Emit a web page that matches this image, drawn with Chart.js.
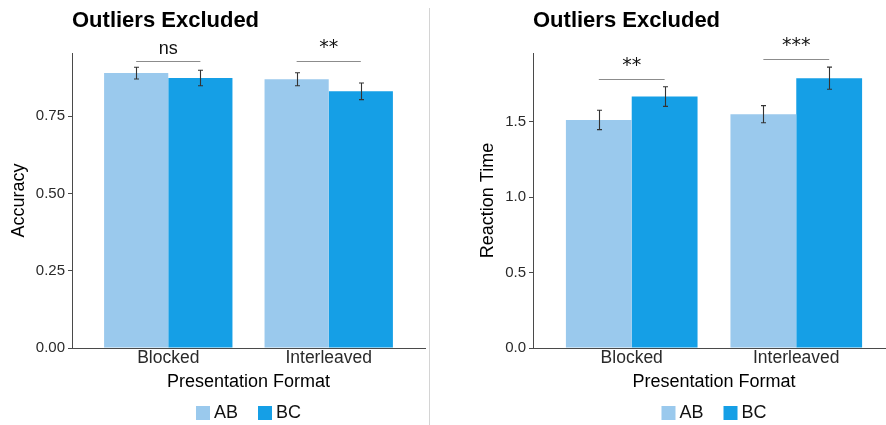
<!DOCTYPE html>
<html>
<head>
<meta charset="utf-8">
<script src="https://cdn.jsdelivr.net/npm/chart.js@4.4.1/dist/chart.umd.min.js"></script>
<style>
  html, body { margin: 0; padding: 0; background: #fff; }
  body { width: 886px; height: 425px; overflow: hidden; position: relative; }
  #accWrap { position: absolute; left: 0; top: 0; width: 430px; height: 425px; }
  #rtWrap { position: absolute; left: 440px; top: 0; width: 457px; height: 425px; }
  #divider { position: absolute; left: 429px; top: 8px; width: 1px; height: 417px; background: #d4d4d4; }
</style>
</head>
<body>
<div id="accWrap"><canvas id="acc" width="430" height="425"></canvas></div>
<div id="rtWrap"><canvas id="rt" width="457" height="425"></canvas></div>
<div id="divider"></div>
<script>
// ---- data ----
const categories = ['Blocked', 'Interleaved'];
const catPositions = [1, 2];
const seriesNames = ['AB', 'BC'];
const seriesColors = ['#9AC9ED', '#159FE6'];

// accuracy panel
const accAB = [0.890, 0.870];
const accBC = [0.874, 0.831];
const accErrAB = [0.019, 0.021];
const accErrBC = [0.025, 0.027];
const accSigLabels = ['ns', '**'];
const accSigLevels = [0.930, 0.928];
const accTicks = [0, 0.25, 0.5, 0.75];
const accTickLabels = ['0.00', '0.25', '0.50', '0.75'];
const accMax = 0.955;

// reaction time panel
const rtAB = [1.513, 1.551];
const rtBC = [1.668, 1.790];
const rtErrAB = [0.064, 0.057];
const rtErrBC = [0.065, 0.073];
const rtSigLabels = ['**', '***'];
const rtSigLevels = [1.787, 1.916];
const rtTicks = [0, 0.5, 1.0, 1.5];
const rtTickLabels = ['0.0', '0.5', '1.0', '1.5'];
const rtMax = 1.957;

const panelTitle = 'Outliers Excluded';
const xTitle = 'Presentation Format';

// ---- styling ----
const FONT = '"Liberation Sans", Arial, Helvetica, sans-serif';
const STAR_FONT = '"DejaVu Sans", sans-serif';
Chart.defaults.font.family = FONT;
const axisColor = '#4a4a4a';
const labelColor = '#2a2a2a';

// error bars centred on each bar
const errorBars = {
  id: 'errorBars',
  afterDatasetsDraw(chart) {
    const ctx = chart.ctx, y = chart.scales.y;
    ctx.save();
    ctx.strokeStyle = '#333';
    ctx.lineWidth = 1.1;
    chart.data.datasets.forEach((ds, di) => {
      chart.getDatasetMeta(di).data.forEach((bar, i) => {
        const v = ds.data[i].y, e = ds.errors[i];
        const top = y.getPixelForValue(v + e), bot = y.getPixelForValue(v - e);
        const x = Math.round(bar.x) + 0.5, cap = 2.5;
        ctx.beginPath();
        ctx.moveTo(x, top); ctx.lineTo(x, bot);
        ctx.moveTo(x - cap, top); ctx.lineTo(x + cap, top);
        ctx.moveTo(x - cap, bot); ctx.lineTo(x + cap, bot);
        ctx.stroke();
      });
    });
    ctx.restore();
  }
};

// significance bracket between the two bars of each category
function sigPlugin(labels, levels) {
  return {
    id: 'sigBrackets',
    afterDatasetsDraw(chart) {
      const ctx = chart.ctx, y = chart.scales.y;
      const a = chart.getDatasetMeta(0).data, b = chart.getDatasetMeta(1).data;
      ctx.save();
      labels.forEach((lab, i) => {
        const py = Math.round(y.getPixelForValue(levels[i])) + 0.5;
        ctx.strokeStyle = '#8c8c8c';
        ctx.lineWidth = 1.2;
        ctx.beginPath();
        ctx.moveTo(a[i].x, py); ctx.lineTo(b[i].x, py);
        ctx.stroke();
        const stars = /^\*+$/.test(lab);
        ctx.fillStyle = '#111';
        ctx.font = stars ? '19px ' + STAR_FONT : '18px ' + FONT;
        ctx.textAlign = 'center';
        ctx.textBaseline = 'alphabetic';
        ctx.fillText(lab, (a[i].x + b[i].x) / 2, py - (stars ? 9 : 8));
      });
      ctx.restore();
    }
  };
}

// legend row under the axis title, centred on the plot area
const bottomLegend = {
  id: 'bottomLegend',
  afterDraw(chart) {
    const ctx = chart.ctx, area = chart.chartArea;
    const box = 14, gap = 4, spacing = 20, boxTop = 406;
    ctx.save();
    ctx.font = '18px ' + FONT;
    const items = chart.data.datasets.map(ds => ({
      text: ds.label, color: ds.backgroundColor, w: ctx.measureText(ds.label).width
    }));
    const total = items.reduce((s, it) => s + box + gap + it.w, 0) + spacing * (items.length - 1);
    let x = (area.left + area.right) / 2 - total / 2;
    items.forEach(it => {
      ctx.fillStyle = it.color;
      ctx.fillRect(x, boxTop, box, box);
      ctx.fillStyle = '#111';
      ctx.textAlign = 'left';
      ctx.textBaseline = 'middle';
      ctx.fillText(it.text, x + box + gap, boxTop + box / 2);
      x += box + gap + it.w + spacing;
    });
    ctx.restore();
  }
};

function makePanel(canvasId, cfg) {
  const toPoints = arr => arr.map((v, i) => ({ x: catPositions[i], y: v }));
  return new Chart(document.getElementById(canvasId), {
    type: 'bar',
    data: {
      datasets: [
        { label: seriesNames[0], data: toPoints(cfg.ab), errors: cfg.errAB,
          backgroundColor: seriesColors[0], borderWidth: 0 },
        { label: seriesNames[1], data: toPoints(cfg.bc), errors: cfg.errBC,
          backgroundColor: seriesColors[1], borderWidth: 0 }
      ]
    },
    options: {
      responsive: false,
      animation: false,
      categoryPercentage: 0.8,
      barPercentage: 1.0,
      layout: { padding: { top: 0, left: 0, bottom: 0, right: cfg.padRight } },
      plugins: {
        legend: { display: false },
        tooltip: { enabled: false },
        title: {
          display: true, text: panelTitle, align: 'start', fullSize: false,
          color: '#000', font: { size: 22, weight: 'bold' },
          padding: { top: 8, bottom: 18.6 }
        }
      },
      scales: {
        x: {
          type: 'linear', min: 0.4, max: 2.6, offset: false,
          afterFit: s => { s.height = 77; },
          afterBuildTicks: s => { s.ticks = catPositions.map(v => ({ value: v })); },
          ticks: {
            callback: (v, i) => categories[i],
            color: labelColor, font: { size: 17.5 }, padding: 0, maxRotation: 0, autoSkip: false
          },
          grid: { display: false, drawTicks: false },
          border: { display: true, color: axisColor, width: 1 },
          title: {
            display: true, text: xTitle, color: '#000', font: { size: 18 },
            padding: { top: 0, bottom: 32 }
          }
        },
        y: {
          type: 'linear', min: 0, max: cfg.yMax,
          afterFit: s => { s.width = cfg.yWidth; },
          afterBuildTicks: s => { s.ticks = cfg.ticks.map(v => ({ value: v })); },
          ticks: {
            callback: (v, i) => cfg.tickLabels[i],
            color: labelColor, font: { size: 15 }, padding: 3
          },
          grid: { drawOnChartArea: false, drawTicks: true, tickLength: 4, color: axisColor },
          border: { display: true, color: axisColor, width: 1 },
          title: {
            display: true, text: cfg.yTitle, color: '#000', font: { size: 18 },
            padding: { top: cfg.yTitlePad, bottom: 0 }
          }
        }
      }
    },
    plugins: [errorBars, sigPlugin(cfg.sigLabels, cfg.sigLevels), bottomLegend]
  });
}

makePanel('acc', {
  ab: accAB, bc: accBC, errAB: accErrAB, errBC: accErrBC,
  sigLabels: accSigLabels, sigLevels: accSigLevels,
  ticks: accTicks, tickLabels: accTickLabels, yMax: accMax,
  yTitle: 'Accuracy', yWidth: 72, yTitlePad: 8, padRight: 5
});

makePanel('rt', {
  ab: rtAB, bc: rtBC, errAB: rtErrAB, errBC: rtErrBC,
  sigLabels: rtSigLabels, sigLevels: rtSigLevels,
  ticks: rtTicks, tickLabels: rtTickLabels, yMax: rtMax,
  yTitle: 'Reaction Time', yWidth: 93, yTitlePad: 37, padRight: 2
});
</script>
</body>
</html>
